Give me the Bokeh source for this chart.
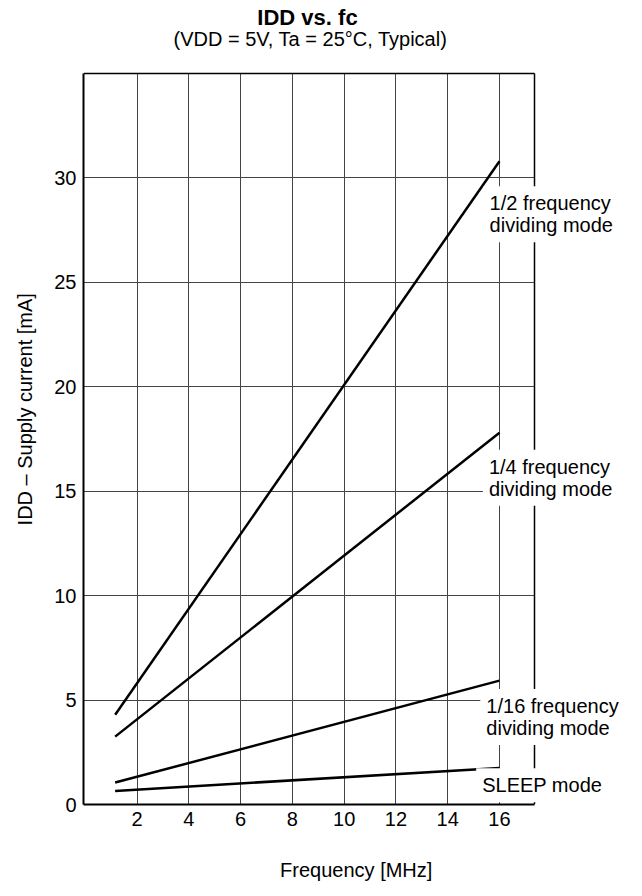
from bokeh.plotting import figure
from bokeh.models import Range1d, FixedTicker, Label, LinearAxis, ColumnDataSource, Grid
from bokeh.embed import file_html
from bokeh.resources import INLINE

# ---- data ----
freq_mhz = [1.15, 16.0]
idd_half = [4.3, 30.8]        # 1/2 frequency dividing mode
idd_quarter = [3.25, 17.8]    # 1/4 frequency dividing mode
idd_sixteenth = [1.05, 5.93]  # 1/16 frequency dividing mode
idd_sleep = [0.65, 1.75]      # SLEEP mode
x_ticks = [2, 4, 6, 8, 10, 12, 14, 16]
y_ticks = [0, 5, 10, 15, 20, 25, 30]
mode_names = ["1/2 frequency\ndividing mode", "1/4 frequency\ndividing mode",
              "1/16 frequency\ndividing mode", "SLEEP mode"]

FONT = "Liberation Sans"

# chart box (axis extents) and the wider drawing area that also holds the texts
X0, X1 = -0.073, 17.365
Y0, Y1 = 0, 35

p = figure(frame_width=551, frame_height=796,
           x_range=Range1d(X0, 21.217), y_range=Range1d(Y0, 38.11),
           output_backend="svg", toolbar_location=None,
           min_border_left=83, min_border_right=0,
           min_border_top=8, min_border_bottom=88,
           background_fill_color="white", border_fill_color="white")
p.outline_line_color = None

# axes
p.xaxis.bounds = (X0, X1)
p.yaxis.bounds = (Y0, Y1)
for ax in (p.xaxis[0], p.yaxis[0]):
    ax.axis_line_color = "black"
    ax.axis_line_width = 2
    ax.major_tick_in = 0
    ax.major_tick_out = 0
    ax.minor_tick_in = 0
    ax.minor_tick_out = 0
    ax.major_label_text_font = FONT
    ax.major_label_text_font_size = "20px"
    ax.major_label_text_color = "black"
    ax.major_label_standoff = 7
    ax.axis_label_text_font = FONT
    ax.axis_label_text_font_size = "20px"
    ax.axis_label_text_font_style = "normal"
    ax.axis_label_text_color = "black"

p.xaxis.ticker = FixedTicker(ticks=x_ticks)
p.yaxis.ticker = FixedTicker(ticks=y_ticks)
p.xaxis.axis_label = "Frequency  [MHz]"
p.yaxis.axis_label = "IDD \u2013 Supply current  [mA]"
p.xaxis.axis_label_standoff = 30
p.yaxis.axis_label_standoff = 15

# top and right borders of the chart box (guides, drawn under the labels)
top_border = LinearAxis(ticker=FixedTicker(ticks=[]), fixed_location=Y1, bounds=(X0, X1),
                        axis_line_color="black", axis_line_width=1.5,
                        major_tick_out=0, major_tick_in=0, minor_tick_out=0, minor_tick_in=0)
right_border = LinearAxis(ticker=FixedTicker(ticks=[]), fixed_location=X1, bounds=(Y0, Y1),
                          axis_line_color="black", axis_line_width=1.5,
                          major_tick_out=0, major_tick_in=0, minor_tick_out=0, minor_tick_in=0)
p.add_layout(top_border, "above")
p.add_layout(right_border, "right")

# grid
GRID_COLOR = "#444444"
p.xgrid.ticker = FixedTicker(ticks=x_ticks)
p.ygrid.ticker = FixedTicker(ticks=y_ticks[1:])
if "cross_bounds" in Grid.properties():
    p.xgrid.cross_bounds = (Y0, Y1)
    p.ygrid.cross_bounds = (X0, X1)
    p.grid.grid_line_color = GRID_COLOR
    p.grid.grid_line_width = 1
    p.grid.grid_line_alpha = 1
else:
    p.grid.visible = False
    gx = x_ticks
    gy = y_ticks[1:]
    p.segment(x0=gx, y0=[Y0] * len(gx), x1=gx, y1=[Y1] * len(gx),
              line_color=GRID_COLOR, line_width=1, level="underlay")
    p.segment(x0=[X0] * len(gy), y0=gy, x1=[X1] * len(gy), y1=gy,
              line_color=GRID_COLOR, line_width=1, level="underlay")

# lines
src = ColumnDataSource(dict(f=freq_mhz, half=idd_half, quarter=idd_quarter,
                            sixteenth=idd_sixteenth, sleep=idd_sleep))
for col in ("half", "quarter", "sixteenth", "sleep"):
    p.line(x="f", y=col, source=src, line_color="black", line_width=2.5)

# curve labels
label_pos = [(15.385, 29.60), (15.36, 16.99), (15.26, 5.53), (15.10, 1.73)]
for name, (lx, ly) in zip(mode_names, label_pos):
    p.add_layout(Label(x=lx, y=ly, text=name, text_font=FONT, text_font_size="20px",
                       text_color="black", text_align="left", text_baseline="top",
                       text_line_height=1.0, background_fill_color="white",
                       background_fill_alpha=1.0, padding=6))

# titles
p.add_layout(Label(x=8.70, y=37.68, text="IDD vs.  fc", text_font=FONT,
                   text_font_size="22px", text_font_style="bold", text_color="black",
                   text_align="center", text_baseline="middle"))
p.add_layout(Label(x=8.70, y=36.65, text="(VDD = 5V, Ta = 25\u00b0C, Typical)",
                   text_font=FONT, text_font_size="20px", text_color="black",
                   text_align="center", text_baseline="middle"))

open("out.html", "w").write(file_html(p, INLINE))
